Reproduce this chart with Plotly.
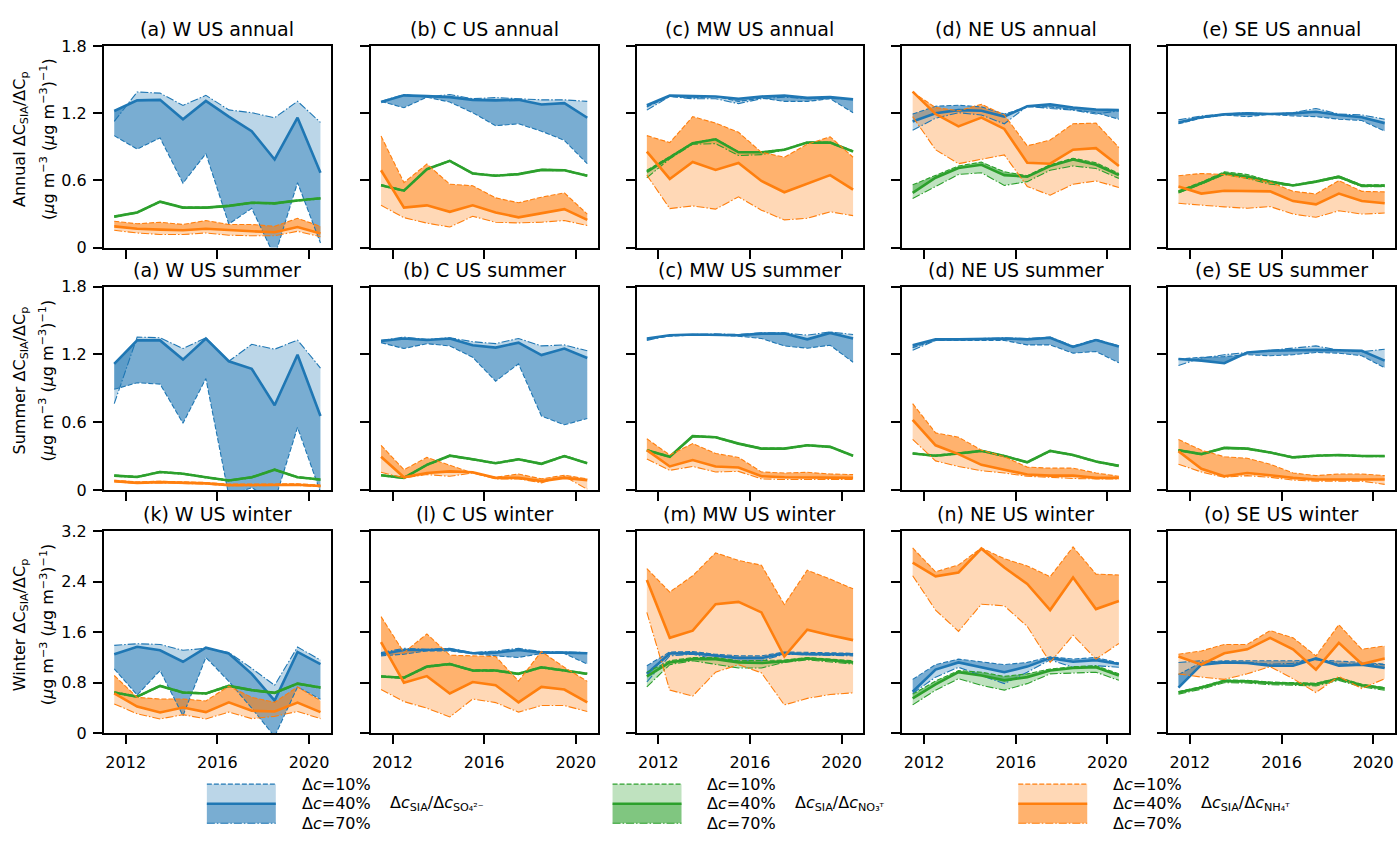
import plotly.graph_objects as go

# ---------------------------------------------------------------------------
# Data: dC_SIA / dC_p ratios for each region, season and precursor.
# Each block holds three rows: perturbation dc = 10 %, 40 %, 70 %.
# ---------------------------------------------------------------------------
YEARS = list(range(2011, 2021))
X_TICKS = [2012, 2016, 2020]

REGIONS = ["W", "C", "MW", "NE", "SE"]
SEASON_ROWS = ["annual", "summer", "winter"]
PANEL_LETTERS = [["a", "b", "c", "d", "e"],
                 ["a", "b", "c", "d", "e"],
                 ["k", "l", "m", "n", "o"]]
Y_TICKS = [[0, 0.6, 1.2, 1.8], [0, 0.6, 1.2, 1.8], [0, 0.8, 1.6, 2.4, 3.2]]
Y_TICKTEXT = [["0", "0.6", "1.2", "1.8"], ["0", "0.6", "1.2", "1.8"],
              ["0", "0.8", "1.6", "2.4", "3.2"]]
Y_MAX = [1.8, 1.8, 3.2]

# ---- annual -----------------------------------------------------------------
W_ANNUAL_SO4 = [[1.00, 0.88, 0.98, 0.575, 0.84, 0.21, 0.35, -0.08, 0.58, 0.04],
                [1.22, 1.315, 1.32, 1.147, 1.31, 1.17, 1.04, 0.787, 1.16, 0.668],
                [1.127, 1.39, 1.38, 1.27, 1.36, 1.23, 1.205, 1.16, 1.307, 1.118]]
W_ANNUAL_NO3 = [[0.281, 0.318, 0.415, 0.362, 0.362, 0.377, 0.405, 0.40, 0.425, 0.445],
                [0.276, 0.313, 0.41, 0.357, 0.357, 0.372, 0.40, 0.395, 0.42, 0.44],
                [0.271, 0.308, 0.405, 0.352, 0.352, 0.367, 0.395, 0.39, 0.415, 0.435]]
W_ANNUAL_NH4 = [[0.235, 0.212, 0.226, 0.206, 0.241, 0.206, 0.206, 0.189, 0.261, 0.189],
                [0.189, 0.168, 0.16, 0.154, 0.168, 0.154, 0.145, 0.136, 0.183, 0.125],
                [0.154, 0.13, 0.116, 0.116, 0.13, 0.11, 0.105, 0.105, 0.145, 0.096]]

C_ANNUAL_SO4 = [[1.306, 1.25, 1.344, 1.30, 1.205, 1.089, 1.106, 1.04, 0.958, 0.749],
                [1.30, 1.36, 1.353, 1.344, 1.32, 1.315, 1.32, 1.278, 1.29, 1.16],
                [1.306, 1.368, 1.344, 1.368, 1.33, 1.34, 1.33, 1.32, 1.32, 1.306]]
C_ANNUAL_NO3 = [[0.562, 0.513, 0.705, 0.78, 0.667, 0.647, 0.661, 0.699, 0.696, 0.647],
                [0.557, 0.508, 0.70, 0.775, 0.662, 0.642, 0.656, 0.694, 0.691, 0.642],
                [0.552, 0.503, 0.695, 0.77, 0.657, 0.637, 0.651, 0.689, 0.686, 0.637]]
C_ANNUAL_NH4 = [[0.996, 0.58, 0.746, 0.566, 0.552, 0.444, 0.40, 0.45, 0.488, 0.299],
                [0.691, 0.357, 0.377, 0.319, 0.377, 0.313, 0.27, 0.308, 0.343, 0.247],
                [0.377, 0.267, 0.218, 0.183, 0.279, 0.226, 0.22, 0.226, 0.241, 0.197]]

MW_ANNUAL_SO4 = [[1.257, 1.35, 1.338, 1.35, 1.306, 1.336, 1.306, 1.306, 1.33, 1.205],
                 [1.272, 1.359, 1.353, 1.35, 1.33, 1.35, 1.359, 1.338, 1.344, 1.324],
                 [1.228, 1.35, 1.33, 1.33, 1.286, 1.33, 1.344, 1.33, 1.33, 1.33]]
MW_ANNUAL_NO3 = [[0.69, 0.812, 0.937, 0.972, 0.856, 0.856, 0.879, 0.943, 0.943, 0.864],
                 [0.677, 0.807, 0.932, 0.967, 0.851, 0.851, 0.874, 0.938, 0.938, 0.859],
                 [0.624, 0.793, 0.923, 0.929, 0.822, 0.83, 0.871, 0.938, 0.932, 0.859]]
MW_ANNUAL_NH4 = [[1.0, 0.938, 1.17, 1.112, 1.03, 0.851, 0.807, 0.923, 0.99, 0.807],
                 [0.857, 0.613, 0.764, 0.694, 0.755, 0.595, 0.494, 0.569, 0.647, 0.517],
                 [0.647, 0.348, 0.372, 0.343, 0.453, 0.334, 0.247, 0.261, 0.319, 0.285]]

NE_ANNUAL_SO4 = [[1.193, 1.263, 1.272, 1.257, 1.193, 1.257, 1.257, 1.234, 1.205, 1.147],
                 [1.127, 1.20, 1.228, 1.222, 1.17, 1.263, 1.28, 1.251, 1.234, 1.228],
                 [1.048, 1.156, 1.205, 1.185, 1.106, 1.263, 1.243, 1.228, 1.193, 1.222]]
NE_ANNUAL_NO3 = [[0.56, 0.647, 0.729, 0.764, 0.677, 0.642, 0.74, 0.798, 0.758, 0.662],
                 [0.488, 0.624, 0.711, 0.74, 0.647, 0.633, 0.729, 0.787, 0.74, 0.647],
                 [0.438, 0.546, 0.653, 0.668, 0.555, 0.589, 0.691, 0.729, 0.706, 0.618]]
NE_ANNUAL_NH4 = [[1.388, 1.251, 1.222, 1.28, 1.185, 0.909, 0.961, 1.106, 1.112, 0.894],
                 [1.394, 1.193, 1.083, 1.161, 1.06, 0.758, 0.749, 0.874, 0.888, 0.729],
                 [1.17, 0.874, 0.749, 0.787, 0.828, 0.546, 0.467, 0.566, 0.595, 0.537]]

SE_ANNUAL_SO4 = [[1.106, 1.156, 1.185, 1.17, 1.19, 1.176, 1.17, 1.147, 1.135, 1.04],
                 [1.118, 1.164, 1.19, 1.199, 1.193, 1.199, 1.214, 1.185, 1.164, 1.112],
                 [1.141, 1.176, 1.193, 1.205, 1.193, 1.205, 1.243, 1.193, 1.185, 1.147]]
SE_ANNUAL_NO3 = [[0.508, 0.584, 0.677, 0.653, 0.595, 0.56, 0.595, 0.639, 0.56, 0.56],
                 [0.497, 0.575, 0.662, 0.633, 0.589, 0.555, 0.589, 0.633, 0.552, 0.552],
                 [0.488, 0.566, 0.653, 0.618, 0.566, 0.552, 0.584, 0.624, 0.543, 0.543]]
SE_ANNUAL_NH4 = [[0.642, 0.662, 0.653, 0.618, 0.584, 0.502, 0.479, 0.598, 0.502, 0.497],
                 [0.546, 0.482, 0.508, 0.502, 0.502, 0.415, 0.386, 0.482, 0.415, 0.395],
                 [0.395, 0.377, 0.363, 0.351, 0.366, 0.299, 0.27, 0.328, 0.299, 0.308]]

# ---- summer -----------------------------------------------------------------
W_SUMMER_SO4 = [[0.891, 0.949, 0.937, 0.591, 0.986, -0.05, 0.02, -0.1, 0.554, -0.02],
                [1.116, 1.324, 1.324, 1.154, 1.341, 1.139, 1.073, 0.75, 1.197, 0.655],
                [0.764, 1.353, 1.347, 1.252, 1.347, 1.139, 1.289, 1.246, 1.327, 1.079]]
W_SUMMER_NO3 = [[0.132, 0.12, 0.164, 0.149, 0.117, 0.089, 0.117, 0.184, 0.117, 0.097],
                [0.127, 0.115, 0.159, 0.144, 0.112, 0.084, 0.112, 0.179, 0.112, 0.092],
                [0.122, 0.11, 0.154, 0.139, 0.107, 0.079, 0.107, 0.174, 0.107, 0.087]]
W_SUMMER_NH4 = [[0.086, 0.071, 0.077, 0.071, 0.066, 0.051, 0.051, 0.048, 0.054, 0.043],
                [0.078, 0.063, 0.069, 0.063, 0.058, 0.043, 0.043, 0.04, 0.046, 0.035],
                [0.072, 0.057, 0.063, 0.057, 0.052, 0.037, 0.037, 0.034, 0.04, 0.029]]

C_SUMMER_SO4 = [[1.304, 1.252, 1.295, 1.275, 1.174, 0.963, 1.116, 0.655, 0.577, 0.632],
                [1.318, 1.341, 1.327, 1.341, 1.281, 1.26, 1.304, 1.194, 1.252, 1.168],
                [1.324, 1.353, 1.333, 1.347, 1.312, 1.295, 1.341, 1.275, 1.284, 1.232]]
C_SUMMER_NO3 = [[0.135, 0.112, 0.227, 0.308, 0.276, 0.242, 0.276, 0.236, 0.305, 0.242],
                [0.13, 0.107, 0.222, 0.303, 0.271, 0.237, 0.271, 0.231, 0.30, 0.237],
                [0.125, 0.102, 0.217, 0.298, 0.266, 0.232, 0.266, 0.226, 0.295, 0.232]]
C_SUMMER_NH4 = [[0.395, 0.179, 0.288, 0.222, 0.15, 0.112, 0.141, 0.098, 0.13, 0.098],
                [0.294, 0.112, 0.15, 0.164, 0.156, 0.107, 0.107, 0.078, 0.107, 0.087],
                [0.156, 0.107, 0.136, 0.121, 0.15, 0.098, 0.098, 0.063, 0.121, 0.006]]

MW_SUMMER_SO4 = [[1.333, 1.361, 1.37, 1.37, 1.361, 1.341, 1.275, 1.255, 1.281, 1.131],
                 [1.341, 1.37, 1.376, 1.376, 1.37, 1.384, 1.384, 1.333, 1.39, 1.341],
                 [1.324, 1.37, 1.376, 1.382, 1.376, 1.39, 1.39, 1.37, 1.399, 1.376]]
MW_SUMMER_NO3 = [[0.357, 0.299, 0.481, 0.472, 0.415, 0.371, 0.371, 0.40, 0.386, 0.308],
                 [0.352, 0.294, 0.476, 0.467, 0.41, 0.366, 0.366, 0.395, 0.381, 0.303],
                 [0.347, 0.289, 0.471, 0.462, 0.405, 0.361, 0.361, 0.39, 0.376, 0.298]]
MW_SUMMER_NH4 = [[0.453, 0.309, 0.41, 0.323, 0.288, 0.159, 0.15, 0.156, 0.141, 0.136],
                 [0.352, 0.208, 0.265, 0.208, 0.199, 0.121, 0.112, 0.112, 0.107, 0.107],
                 [0.274, 0.173, 0.208, 0.159, 0.164, 0.098, 0.092, 0.092, 0.092, 0.092]]

NE_SUMMER_SO4 = [[1.26, 1.324, 1.324, 1.324, 1.324, 1.284, 1.284, 1.211, 1.226, 1.125],
                 [1.281, 1.333, 1.333, 1.338, 1.341, 1.333, 1.347, 1.266, 1.327, 1.269],
                 [1.237, 1.324, 1.333, 1.338, 1.347, 1.341, 1.353, 1.275, 1.333, 1.275]]
NE_SUMMER_NO3 = [[0.328, 0.308, 0.328, 0.351, 0.305, 0.25, 0.351, 0.314, 0.256, 0.218],
                 [0.323, 0.303, 0.323, 0.346, 0.30, 0.245, 0.346, 0.309, 0.251, 0.213],
                 [0.318, 0.298, 0.318, 0.341, 0.295, 0.24, 0.341, 0.304, 0.246, 0.208]]
NE_SUMMER_NH4 = [[0.764, 0.505, 0.467, 0.352, 0.294, 0.202, 0.193, 0.193, 0.15, 0.121],
                 [0.62, 0.395, 0.317, 0.222, 0.179, 0.136, 0.127, 0.127, 0.107, 0.107],
                 [0.447, 0.257, 0.208, 0.17, 0.15, 0.121, 0.112, 0.101, 0.098, 0.098]]

SE_SUMMER_SO4 = [[1.159, 1.174, 1.18, 1.197, 1.188, 1.197, 1.217, 1.211, 1.188, 1.082],
                 [1.159, 1.145, 1.122, 1.217, 1.232, 1.237, 1.24, 1.237, 1.232, 1.145],
                 [1.102, 1.168, 1.197, 1.217, 1.237, 1.255, 1.275, 1.237, 1.223, 1.246]]
SE_SUMMER_NO3 = [[0.357, 0.322, 0.377, 0.371, 0.337, 0.293, 0.308, 0.314, 0.305, 0.305],
                 [0.352, 0.317, 0.372, 0.366, 0.332, 0.288, 0.303, 0.309, 0.30, 0.30],
                 [0.347, 0.312, 0.367, 0.361, 0.327, 0.283, 0.298, 0.304, 0.295, 0.295]]
SE_SUMMER_NH4 = [[0.447, 0.352, 0.294, 0.28, 0.228, 0.15, 0.127, 0.141, 0.141, 0.127],
                 [0.343, 0.187, 0.121, 0.15, 0.13, 0.107, 0.092, 0.092, 0.098, 0.092],
                 [0.228, 0.159, 0.112, 0.127, 0.112, 0.087, 0.078, 0.078, 0.078, 0.049]]

# ---- winter -----------------------------------------------------------------
W_WINTER_SO4 = [[1.019, 0.605, 0.993, 0.279, 1.2, 0.822, 0.398, -0.05, 0.734, 0.538],
                [1.251, 1.37, 1.313, 1.132, 1.355, 1.262, 0.941, 0.517, 1.287, 1.096],
                [1.391, 1.417, 1.406, 1.313, 1.344, 1.277, 1.029, 0.76, 1.365, 1.158]]
W_WINTER_NO3 = [[0.656, 0.589, 0.76, 0.656, 0.641, 0.76, 0.693, 0.651, 0.796, 0.734],
                [0.646, 0.579, 0.75, 0.646, 0.631, 0.75, 0.683, 0.641, 0.786, 0.724],
                [0.636, 0.569, 0.74, 0.636, 0.621, 0.74, 0.673, 0.631, 0.776, 0.714]]
W_WINTER_NH4 = [[0.915, 0.569, 0.543, 0.543, 0.512, 0.745, 0.569, 0.491, 0.734, 0.517],
                [0.631, 0.424, 0.331, 0.408, 0.336, 0.491, 0.357, 0.346, 0.486, 0.336],
                [0.465, 0.31, 0.228, 0.295, 0.228, 0.336, 0.233, 0.269, 0.346, 0.233]]

C_WINTER_SO4 = [[1.225, 1.251, 1.303, 1.303, 1.262, 1.225, 1.20, 1.262, 1.262, 1.096],
                [1.251, 1.318, 1.318, 1.329, 1.267, 1.277, 1.318, 1.277, 1.277, 1.267],
                [1.277, 1.344, 1.329, 1.344, 1.277, 1.303, 1.344, 1.293, 1.287, 1.277]]
C_WINTER_NO3 = [[0.91, 0.889, 1.065, 1.106, 1.003, 1.003, 0.951, 1.054, 1.003, 0.951],
                [0.90, 0.879, 1.055, 1.096, 0.993, 0.993, 0.941, 1.044, 0.993, 0.941],
                [0.89, 0.869, 1.045, 1.086, 0.983, 0.983, 0.931, 1.034, 0.983, 0.931]]
C_WINTER_NH4 = [[1.846, 1.277, 1.572, 1.236, 1.225, 1.215, 0.827, 1.293, 1.044, 0.822],
                [1.443, 0.801, 0.905, 0.631, 0.812, 0.76, 0.491, 0.734, 0.693, 0.491],
                [0.693, 0.502, 0.398, 0.259, 0.543, 0.486, 0.336, 0.44, 0.44, 0.346]]

MW_WINTER_SO4 = [[1.07, 1.287, 1.293, 1.251, 1.225, 1.225, 1.287, 1.277, 1.267, 1.267],
                 [0.941, 1.262, 1.267, 1.225, 1.189, 1.189, 1.267, 1.251, 1.251, 1.251],
                 [0.812, 1.225, 1.251, 1.174, 1.148, 1.148, 1.251, 1.241, 1.225, 1.225]]
MW_WINTER_NO3 = [[0.967, 1.148, 1.2, 1.2, 1.148, 1.148, 1.158, 1.2, 1.174, 1.148],
                 [0.90, 1.122, 1.174, 1.174, 1.122, 1.112, 1.138, 1.184, 1.158, 1.122],
                 [0.734, 1.086, 1.148, 1.096, 1.034, 1.034, 1.122, 1.163, 1.132, 1.096]]
MW_WINTER_NH4 = [[2.606, 2.234, 2.492, 2.854, 2.735, 2.658, 2.037, 2.58, 2.441, 2.285],
                 [2.425, 1.51, 1.624, 2.042, 2.079, 1.913, 1.215, 1.639, 1.551, 1.474],
                 [1.913, 0.683, 0.589, 0.967, 1.086, 0.957, 0.45, 0.553, 0.615, 0.641]]

NE_WINTER_SO4 = [[0.853, 1.086, 1.174, 1.132, 1.086, 1.122, 1.21, 1.174, 1.2, 1.112],
                 [0.657, 1.008, 1.122, 1.044, 0.967, 1.055, 1.189, 1.132, 1.158, 1.096],
                 [0.631, 0.889, 1.044, 0.915, 0.786, 0.967, 1.163, 1.044, 1.07, 1.044]]
NE_WINTER_NO3 = [[0.62, 0.827, 0.993, 0.967, 0.90, 0.941, 1.018, 1.054, 1.07, 0.941],
                 [0.553, 0.776, 0.967, 0.915, 0.838, 0.889, 0.993, 1.034, 1.044, 0.915],
                 [0.45, 0.683, 0.864, 0.76, 0.683, 0.786, 0.941, 0.957, 0.967, 0.838]]
NE_WINTER_NH4 = [[2.932, 2.554, 2.663, 2.932, 2.761, 2.647, 2.477, 2.947, 2.518, 2.503],
                 [2.699, 2.482, 2.544, 2.921, 2.622, 2.363, 1.949, 2.466, 1.965, 2.094],
                 [2.492, 1.949, 1.613, 2.042, 2.017, 1.691, 1.122, 1.551, 1.174, 1.422]]

SE_WINTER_SO4 = [[0.93, 1.122, 1.148, 1.148, 1.148, 1.148, 1.163, 1.148, 1.122, 1.096],
                 [0.724, 1.086, 1.122, 1.112, 1.07, 1.07, 1.184, 1.07, 1.086, 1.034],
                 [1.12, 1.148, 1.122, 1.122, 1.096, 1.107, 1.184, 1.096, 1.096, 1.086]]
SE_WINTER_NO3 = [[0.662, 0.74, 0.843, 0.838, 0.812, 0.802, 0.792, 0.88, 0.776, 0.724],
                 [0.646, 0.724, 0.827, 0.822, 0.796, 0.786, 0.776, 0.864, 0.76, 0.708],
                 [0.62, 0.698, 0.801, 0.796, 0.77, 0.76, 0.75, 0.838, 0.734, 0.682]]
SE_WINTER_NH4 = [[1.251, 1.303, 1.406, 1.406, 1.624, 1.51, 1.225, 1.717, 1.329, 1.381],
                 [1.215, 1.086, 1.267, 1.329, 1.51, 1.329, 1.008, 1.432, 1.096, 1.184],
                 [0.941, 0.889, 0.853, 0.941, 1.055, 0.864, 0.646, 0.9, 0.708, 0.864]]

PANEL_DATA = [
    [(W_ANNUAL_SO4, W_ANNUAL_NO3, W_ANNUAL_NH4), (C_ANNUAL_SO4, C_ANNUAL_NO3, C_ANNUAL_NH4),
     (MW_ANNUAL_SO4, MW_ANNUAL_NO3, MW_ANNUAL_NH4), (NE_ANNUAL_SO4, NE_ANNUAL_NO3, NE_ANNUAL_NH4),
     (SE_ANNUAL_SO4, SE_ANNUAL_NO3, SE_ANNUAL_NH4)],
    [(W_SUMMER_SO4, W_SUMMER_NO3, W_SUMMER_NH4), (C_SUMMER_SO4, C_SUMMER_NO3, C_SUMMER_NH4),
     (MW_SUMMER_SO4, MW_SUMMER_NO3, MW_SUMMER_NH4), (NE_SUMMER_SO4, NE_SUMMER_NO3, NE_SUMMER_NH4),
     (SE_SUMMER_SO4, SE_SUMMER_NO3, SE_SUMMER_NH4)],
    [(W_WINTER_SO4, W_WINTER_NO3, W_WINTER_NH4), (C_WINTER_SO4, C_WINTER_NO3, C_WINTER_NH4),
     (MW_WINTER_SO4, MW_WINTER_NO3, MW_WINTER_NH4), (NE_WINTER_SO4, NE_WINTER_NO3, NE_WINTER_NH4),
     (SE_WINTER_SO4, SE_WINTER_NO3, SE_WINTER_NH4)],
]

SPECIES_RGB = [(31, 119, 180), (44, 160, 44), (255, 127, 14)]
SPECIES_LABEL = ["Δ<i>c</i><sub>SIA</sub>/Δ<i>c</i><sub>SO₄²⁻</sub>",
                 "Δ<i>c</i><sub>SIA</sub>/Δ<i>c</i><sub>NO₃ᵀ</sub>",
                 "Δ<i>c</i><sub>SIA</sub>/Δ<i>c</i><sub>NH₄ᵀ</sub>"]
ROW_YLABEL = ["Annual", "Summer", "Winter"]

# ---------------------------------------------------------------------------
# Layout geometry (pixels)
# ---------------------------------------------------------------------------
FIG_W, FIG_H = 1397, 845
COL_LEFT = [104, 371, 637, 903, 1169]
PANEL_W = 227
ROW_TOP = [38, 284, 534]
ROW_BOT = [244, 492, 741]
X_RANGE = [2011.05, 2020.95]

FONT = "DejaVu Sans"
DASH_10 = "5px,2px"
DASH_70 = "8px,2px,1.5px,2px"


def px_x(p):
    return p / FIG_W


def px_y(p):
    return 1 - p / FIG_H


def rgba(rgb, a):
    return f"rgba({rgb[0]},{rgb[1]},{rgb[2]},{a})"


xs = [y + 0.5 for y in YEARS]
fig = go.Figure()

fill_traces = []
line_traces = []
for r in range(3):
    for c in range(5):
        n = r * 5 + c + 1
        xa = "x" if n == 1 else f"x{n}"
        ya = "y" if n == 1 else f"y{n}"
        for s, block in enumerate(PANEL_DATA[r][c]):
            v10, v40, v70 = block
            rgb = SPECIES_RGB[s]
            # 10 % .. 40 % band (darker) and 40 % .. 70 % band (lighter)
            fill_traces.append(go.Scatter(
                x=xs + xs[::-1], y=v10 + v40[::-1], mode="lines", fill="toself",
                fillcolor=rgba(rgb, 0.6), line=dict(width=0), xaxis=xa, yaxis=ya,
                hoverinfo="skip", showlegend=False))
            fill_traces.append(go.Scatter(
                x=xs + xs[::-1], y=v40 + v70[::-1], mode="lines", fill="toself",
                fillcolor=rgba(rgb, 0.3), line=dict(width=0), xaxis=xa, yaxis=ya,
                hoverinfo="skip", showlegend=False))
            col = rgba(rgb, 1)
            line_traces.append(go.Scatter(
                x=xs, y=v10, mode="lines", line=dict(color=col, width=1.1, dash=DASH_10),
                xaxis=xa, yaxis=ya, showlegend=False))
            line_traces.append(go.Scatter(
                x=xs, y=v70, mode="lines", line=dict(color=col, width=1.1, dash=DASH_70),
                xaxis=xa, yaxis=ya, showlegend=False))
            line_traces.append(go.Scatter(
                x=xs, y=v40, mode="lines", line=dict(color=col, width=2.6),
                xaxis=xa, yaxis=ya, showlegend=False))

for t in fill_traces + line_traces:
    fig.add_trace(t)

layout = dict(
    width=FIG_W, height=FIG_H,
    margin=dict(l=0, r=0, t=0, b=0),
    paper_bgcolor="white", plot_bgcolor="white",
    font=dict(family=FONT, size=16, color="black"),
    showlegend=False,
)

annotations = []
shapes = []
for r in range(3):
    for c in range(5):
        n = r * 5 + c + 1
        xkey = "xaxis" if n == 1 else f"xaxis{n}"
        ykey = "yaxis" if n == 1 else f"yaxis{n}"
        ya_name = "y" if n == 1 else f"y{n}"
        xa_name = "x" if n == 1 else f"x{n}"
        layout[xkey] = dict(
            domain=[px_x(COL_LEFT[c]), px_x(COL_LEFT[c] + PANEL_W)],
            anchor=ya_name, range=X_RANGE, tickvals=X_TICKS,
            ticktext=[str(v) for v in X_TICKS],
            showticklabels=(r == 2), ticks="outside", ticklen=9, tickwidth=1.8,
            tickcolor="black", showline=True, linecolor="black", linewidth=2,
            mirror=True, showgrid=False, zeroline=False, ticklabelstandoff=4,
            tickfont=dict(family=FONT, size=16, color="black"),
        )
        layout[ykey] = dict(
            domain=[px_y(ROW_BOT[r]), px_y(ROW_TOP[r])],
            anchor=xa_name, range=[0, Y_MAX[r]], tickvals=Y_TICKS[r],
            ticktext=Y_TICKTEXT[r], showticklabels=(c == 0),
            ticks="outside", ticklen=9, tickwidth=1.8, tickcolor="black",
            showline=True, linecolor="black", linewidth=2, mirror=True,
            showgrid=False, zeroline=False, ticklabelstandoff=3,
            tickfont=dict(family=FONT, size=16, color="black"),
        )
        title = f"({PANEL_LETTERS[r][c]}) {REGIONS[c]} US {SEASON_ROWS[r]}"
        annotations.append(dict(
            text=title, xref="paper", yref="paper",
            x=px_x(COL_LEFT[c] + PANEL_W / 2), y=px_y(ROW_TOP[r] - 4),
            xanchor="center", yanchor="bottom", showarrow=False,
            font=dict(family=FONT, size=19, color="black")))

    # row y-axis title (two lines)
    yc = (ROW_TOP[r] + ROW_BOT[r]) / 2
    annotations.append(dict(
        text=f"{ROW_YLABEL[r]} ΔC<sub>SIA</sub>/ΔC<sub>p</sub>",
        xref="paper", yref="paper", x=px_x(20), y=px_y(yc - 8),
        xanchor="center", yanchor="middle", textangle=-90, showarrow=False,
        font=dict(family=FONT, size=16, color="black")))
    annotations.append(dict(
        text="(<i>μ</i>g m<sup>−3</sup> (<i>μ</i>g m<sup>−3</sup>)<sup>−1</sup>)",
        xref="paper", yref="paper", x=px_x(47), y=px_y(yc - 8),
        xanchor="center", yanchor="middle", textangle=-90, showarrow=False,
        font=dict(family=FONT, size=16, color="black")))

# ---------------------------------------------------------------------------
# Custom legend below the panels
# ---------------------------------------------------------------------------
LEG_PATCH_LEFT = [207, 613, 1019]
LEG_PATCH_W = 69
LEG_TOP, LEG_MID, LEG_BOT = 793, 813, 833
for s in range(3):
    rgb = SPECIES_RGB[s]
    x0 = px_x(LEG_PATCH_LEFT[s])
    x1 = px_x(LEG_PATCH_LEFT[s] + LEG_PATCH_W)
    shapes.append(dict(type="rect", xref="paper", yref="paper", x0=x0, x1=x1,
                       y0=px_y(LEG_MID), y1=px_y(LEG_TOP), fillcolor=rgba(rgb, 0.3),
                       line=dict(width=0)))
    shapes.append(dict(type="rect", xref="paper", yref="paper", x0=x0, x1=x1,
                       y0=px_y(LEG_BOT), y1=px_y(LEG_MID), fillcolor=rgba(rgb, 0.6),
                       line=dict(width=0)))
    shapes.append(dict(type="line", xref="paper", yref="paper", x0=x0, x1=x1,
                       y0=px_y(LEG_TOP), y1=px_y(LEG_TOP),
                       line=dict(color=rgba(rgb, 1), width=1.1, dash=DASH_10)))
    shapes.append(dict(type="line", xref="paper", yref="paper", x0=x0, x1=x1,
                       y0=px_y(LEG_MID), y1=px_y(LEG_MID),
                       line=dict(color=rgba(rgb, 1), width=2.6)))
    shapes.append(dict(type="line", xref="paper", yref="paper", x0=x0, x1=x1,
                       y0=px_y(LEG_BOT), y1=px_y(LEG_BOT),
                       line=dict(color=rgba(rgb, 1), width=1.1, dash=DASH_70)))
    tx = LEG_PATCH_LEFT[s] + LEG_PATCH_W + 24
    for yy, lab in zip([LEG_TOP, LEG_MID, LEG_BOT], ["10%", "40%", "70%"]):
        annotations.append(dict(
            text=f"Δ<i>c</i>={lab}", xref="paper", yref="paper",
            x=px_x(tx), y=px_y(yy), xanchor="left", yanchor="middle",
            showarrow=False, font=dict(family=FONT, size=16, color="black")))
    annotations.append(dict(
        text=SPECIES_LABEL[s], xref="paper", yref="paper",
        x=px_x(tx + 88), y=px_y(LEG_MID), xanchor="left", yanchor="middle",
        showarrow=False, font=dict(family=FONT, size=16, color="black")))

layout["annotations"] = annotations
layout["shapes"] = shapes
fig.update_layout(**layout)

fig.write_html("out.html")
